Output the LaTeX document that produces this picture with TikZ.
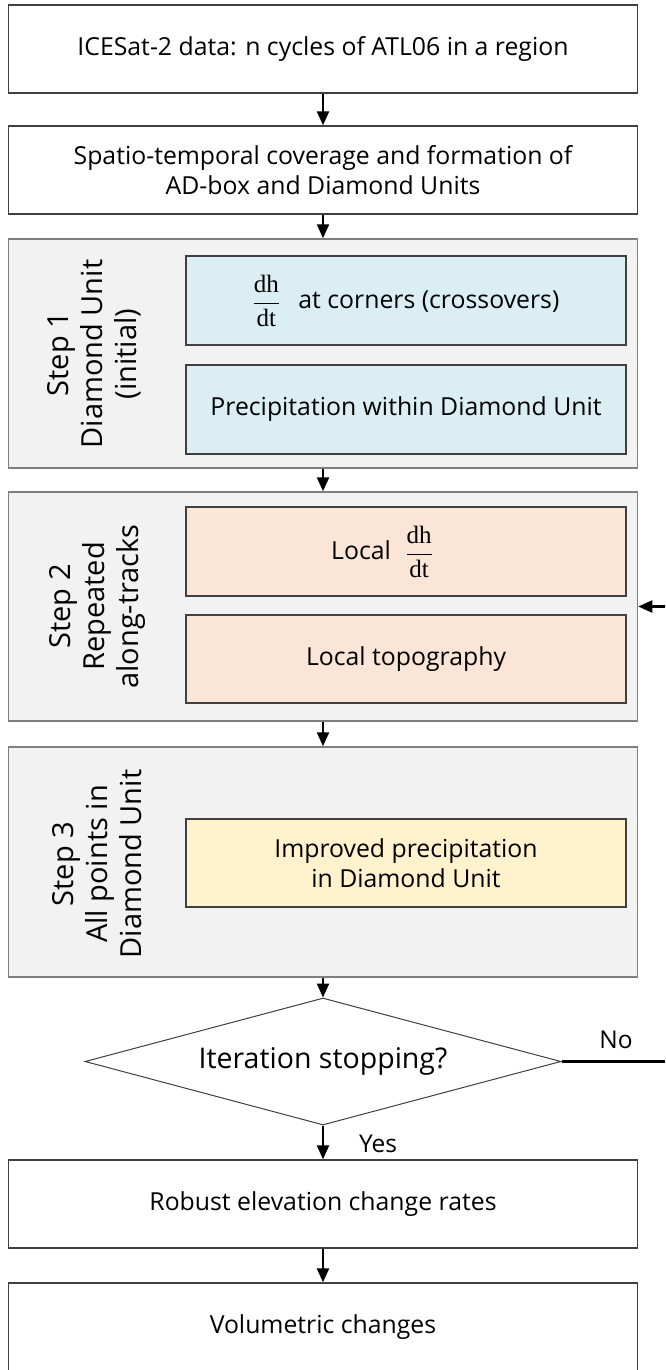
\documentclass[tikz,border=0pt]{standalone}
\usepackage[no-math]{fontspec}
\setmainfont{Open Sans}
\newfontfamily\fracfont{Liberation Serif}
\usetikzlibrary{arrows.meta,shapes.geometric}
\definecolor{gfill}{HTML}{F2F2F2}
\definecolor{bluef}{HTML}{DAEEF3}
\definecolor{peachf}{HTML}{FBE5D6}
\definecolor{yellowf}{HTML}{FFF2CC}
\definecolor{edgegray}{HTML}{7F7F7F}
\definecolor{edgedark}{HTML}{404040}
\newcommand{\dhdt}{$\displaystyle\frac{\hbox{\fontsize{25}{30}\fracfont dh}}{\hbox{\fontsize{25}{30}\fracfont dt}}$}
\begin{document}
\begin{tikzpicture}[x=1pt,y=-1pt,
  box/.style={draw=edgedark, line width=1.3pt, fill=white, minimum width=629pt, minimum height=88pt, inner sep=0pt, align=center, font=\fontsize{24.8}{30}\selectfont},
  outerbox/.style={draw=edgegray, line width=1.5pt, fill=gfill, minimum width=629pt, inner sep=0pt},
  innerbox/.style={draw=edgedark, line width=1.2pt, minimum width=440pt, minimum height=89pt, inner sep=0pt, align=center, font=\fontsize{24.8}{30}\selectfont},
  steplbl/.style={rotate=90, align=center, inner sep=0pt, font=\fontsize{29}{34}\selectfont},
  arr/.style={line width=2.2pt, -{Triangle[length=14pt,width=12pt]}},
  txt/.style={inner sep=0pt, font=\fontsize{24.5}{30}\selectfont},
]
\useasboundingbox (0,0) rectangle (665,1370);
\clip (0,0) rectangle (665,1370);

\node[box] (b1) at (323,49) {ICESat-2 data: n cycles of ATL06 in a region};
\node[box] (b2) at (323,170) {Spatio-temporal coverage and formation of\\AD-box and Diamond Units};

% Step 1
\node[outerbox, minimum height=229pt] (s1) at (323,353.5) {};
\node[innerbox, fill=bluef] (s1a) at (406,300.5) {\dhdt\hspace{12pt} at corners (crossovers)};
\node[innerbox, fill=bluef] (s1b) at (406,409.5) {Precipitation within Diamond Unit};
\node[steplbl] (l1) at (94,354) {Step 1\\Diamond Unit\\(initial)};

% Step 2
\node[outerbox, minimum height=229pt] (s2) at (323,606.5) {};
\node[innerbox, fill=peachf] (s2a) at (406,551.5) {Local\hspace{8pt} \dhdt\hspace*{48pt}};
\node[innerbox, fill=peachf, minimum height=88pt] (s2b) at (406,659) {Local topography};
\node[steplbl] (l2) at (97,606.5) {Step 2\\Repeated\\along-tracks};

% Step 3
\node[outerbox, minimum height=230pt] (s3) at (323,862) {};
\node[innerbox, fill=yellowf, minimum height=88pt] (s3a) at (406,863) {Improved precipitation\\in Diamond Unit};
\node[steplbl] (l3) at (97,864) {Step 3\\All points in\\Diamond Unit};

% Decision
\node[draw=edgedark, line width=1pt, fill=white, shape=diamond, aspect=3.75, minimum width=476pt, minimum height=127pt, inner sep=0pt, font=\fontsize{28.5}{34}\selectfont] (dia) at (323,1061.5) {Iteration stopping?};

\node[box] (b3) at (323,1204) {Robust elevation change rates};
\node[box] (b4) at (323,1327) {Volumetric changes};

\coordinate (loopA) at (700,1061.5);
\coordinate (loopB) at (700,606.5);

\draw[arr] (b1) -- (b2);
\draw[arr] (b2) -- (s1);
\draw[arr] (s1) -- (s2);
\draw[arr] (s2) -- (s3);
\draw[arr] (s3) -- (dia);
\draw[arr] (dia) -- (b3);
\draw[arr] (b3) -- (b4);
\draw[arr] (dia.east) -- (loopA) -- (loopB) -- (s2.east);

\node[txt] (no) at (616,1040) {No};
\node[txt] (yes) at (378,1144) {Yes};
\end{tikzpicture}
\end{document}
